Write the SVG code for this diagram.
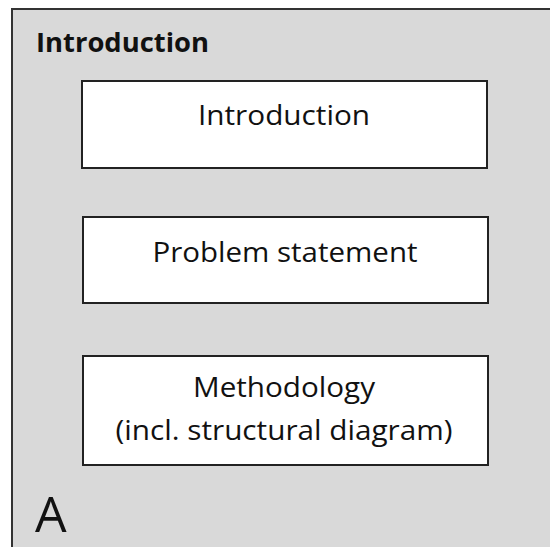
<svg xmlns="http://www.w3.org/2000/svg" width="550" height="547" viewBox="0 0 550 547">
<style>
.box{fill:#ffffff;stroke:#222222;stroke-width:2}
.t{font-family:"Open Sans","Liberation Sans",sans-serif;font-size:27px;fill:#111111;text-anchor:middle}
</style>
<rect width="550" height="547" fill="#ffffff"/>
<g id="frame">
<rect x="12" y="9" width="548" height="550" fill="#d9d9d9" stroke="#333333" stroke-width="2"/>
<text x="36" y="52" font-family="Open Sans, Liberation Sans, sans-serif" font-weight="bold" font-size="27" fill="#111111" textLength="173" lengthAdjust="spacingAndGlyphs">Introduction</text>
<text x="35" y="532" font-family="Open Sans, Liberation Sans, sans-serif" font-size="50" fill="#111111">A</text>
</g>
<g id="n1">
<rect class="box" x="82" y="81" width="405" height="87"/>
<text class="t" x="284" y="125" textLength="172" lengthAdjust="spacingAndGlyphs">Introduction</text>
</g>
<g id="n2">
<rect class="box" x="83" y="217" width="405" height="86"/>
<text class="t" x="285" y="262" textLength="265" lengthAdjust="spacingAndGlyphs">Problem statement</text>
</g>
<g id="n3">
<rect class="box" x="83" y="356" width="405" height="109"/>
<text class="t" x="284" y="397" textLength="182" lengthAdjust="spacingAndGlyphs">Methodology</text>
<text class="t" x="284" y="440" textLength="337" lengthAdjust="spacingAndGlyphs">(incl. structural diagram)</text>
</g>
<g id="connectors"/>
</svg>
